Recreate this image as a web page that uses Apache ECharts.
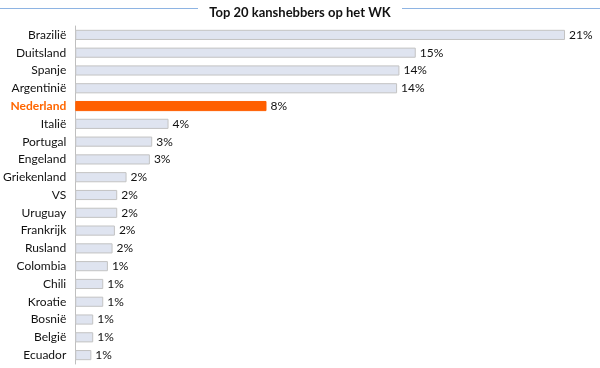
<!DOCTYPE html>
<html><head><meta charset="utf-8">
<script src="https://cdn.jsdelivr.net/npm/echarts@6/dist/echarts.min.js"></script>
<style>html,body{margin:0;padding:0;background:#fff}#c{width:600px;height:368px}</style>
</head><body><div id="c"></div>
<script>
const titleText = 'Top 20 kanshebbers op het WK';
const categories = ['Brazilië','Duitsland','Spanje','Argentinië','Nederland','Italië','Portugal','Engeland','Griekenland','VS','Uruguay','Frankrijk','Rusland','Colombia','Chili','Kroatie','Bosnië','België','Ecuador'];
const values = [21.0, 14.6, 13.9, 13.8, 8.2, 4.0, 3.3, 3.2, 2.2, 1.8, 1.8, 1.7, 1.6, 1.4, 1.2, 1.2, 0.77, 0.77, 0.69];
const labels = ['21%','15%','14%','14%','8%','4%','3%','3%','2%','2%','2%','2%','2%','1%','1%','1%','1%','1%','1%'];
const highlight = 'Nederland';

const chart = echarts.init(document.getElementById('c'));
const font = 'Lato, "Open Sans", sans-serif';
chart.setOption({
  animation: false,
  title: {text: titleText, left: 'center', top: 1, textStyle: {fontFamily: font, fontSize: 13, fontWeight: 'bold', color: '#111'}},
  graphic: [
    {type:'line', shape:{x1:0,y1:8.5,x2:198,y2:8.5}, style:{stroke:'#8eb4e3', lineWidth:1}},
    {type:'line', shape:{x1:402,y1:8.5,x2:600,y2:8.5}, style:{stroke:'#8eb4e3', lineWidth:1}}
  ],
  grid: {left: 72, right: 0, top: 26, bottom: 4, containLabel: false},
  xAxis: {type:'value', min:0, max:22.5, show:false},
  yAxis: {type:'category', data: categories, inverse: true,
    axisLine:{show:true, lineStyle:{color:'#bfbfbf', width:1}},
    axisTick:{show:false},
    axisLabel:{margin: 9, fontFamily: font, fontSize: 12, color:'#111',
      formatter: v => v === highlight ? '{h|'+v+'}' : v,
      rich:{h:{color:'#ff6600', fontWeight:'bold', fontFamily: font, fontSize: 12}}}
  },
  series: [{
    type:'bar',
    data: values.map((v,i) => ({value: v, itemStyle: categories[i]===highlight ? {color:'#ff5f00', borderColor:'#ff5f00'} : {}})),
    barCategoryGap: '43%',
    itemStyle: {color:'#dfe4f0', borderColor:'#c3c3c3', borderWidth:1},
    label: {show:true, position:'right', distance:4, fontFamily: font, fontSize: 12, color:'#111',
      formatter: p => labels[p.dataIndex]}
  }]
});
</script></body></html>
